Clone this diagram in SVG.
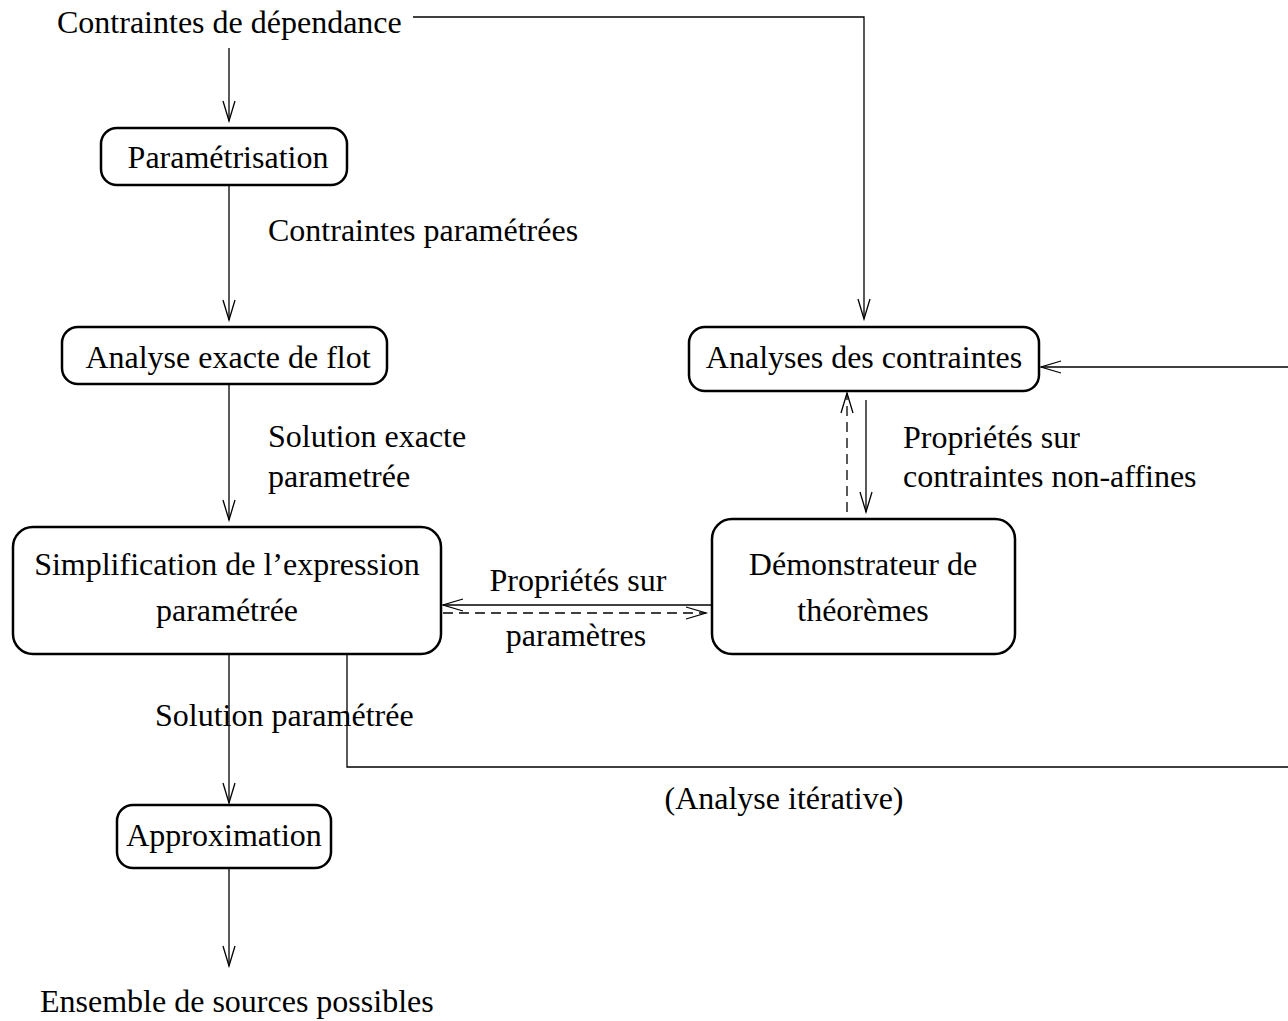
<svg xmlns="http://www.w3.org/2000/svg" width="1288" height="1021" viewBox="0 0 1288 1021">
<style>
text{font-family:"Liberation Serif","Times New Roman",serif;font-size:32px;fill:#000}
.c{text-anchor:middle}
.box{fill:none;stroke:#000;stroke-width:2.5}
.ln{fill:none;stroke:#000;stroke-width:1.3}
.d{stroke-dasharray:10,6}
</style>
<defs>
<marker id="a" markerUnits="userSpaceOnUse" markerWidth="24" markerHeight="16" viewBox="0 0 24 16" refX="21" refY="8" orient="auto">
<path d="M1,2 L21,8 L1,14" fill="none" stroke="#000" stroke-width="1.3"/>
</marker>
</defs>
<rect width="1288" height="1021" fill="#fff"/>
<g id="connectors">
<line class="ln" x1="229" y1="48" x2="229" y2="121" marker-end="url(#a)"/>
<polyline class="ln" points="413,17 864,17 864,319" marker-end="url(#a)"/>
<line class="ln" x1="229" y1="185" x2="229" y2="320" marker-end="url(#a)"/>
<line class="ln" x1="229" y1="384" x2="229" y2="520" marker-end="url(#a)"/>
<line class="ln" x1="866" y1="400" x2="866" y2="512" marker-end="url(#a)"/>
<line class="ln d" x1="847" y1="512" x2="847" y2="393" marker-end="url(#a)"/>
<line class="ln" x1="712" y1="605" x2="443" y2="605" marker-end="url(#a)"/>
<line class="ln d" x1="443" y1="613" x2="706" y2="613" marker-end="url(#a)"/>
<line class="ln" x1="1288" y1="367" x2="1041" y2="367" marker-end="url(#a)"/>
<polyline class="ln" points="347,654 347,767 1288,767"/>
<line class="ln" x1="229" y1="654" x2="229" y2="803" marker-end="url(#a)"/>
<line class="ln" x1="229" y1="868" x2="229" y2="966" marker-end="url(#a)"/>
</g>
<g id="labels">
<text x="57" y="33">Contraintes de dépendance</text>
<text x="268" y="241">Contraintes paramétrées</text>
<text x="268" y="447">Solution exacte</text>
<text x="268" y="487">parametrée</text>
<text x="903" y="448">Propriétés sur</text>
<text x="903" y="487">contraintes non-affines</text>
<text class="c" x="578" y="591">Propriétés sur</text>
<text class="c" x="576" y="646">paramètres</text>
<text x="155" y="726">Solution paramétrée</text>
<text class="c" x="784" y="809">(Analyse itérative)</text>
<text x="40" y="1012">Ensemble de sources possibles</text>
</g>
<g id="n-param">
<rect class="box" x="101" y="128" width="246" height="57" rx="16"/>
<text class="c" x="228" y="168">Paramétrisation</text>
</g>
<g id="n-flot">
<rect class="box" x="62" y="327" width="325" height="57" rx="16"/>
<text class="c" x="228" y="368">Analyse exacte de flot</text>
</g>
<g id="n-analyses">
<rect class="box" x="689" y="327" width="350" height="64" rx="16"/>
<text class="c" x="864" y="368">Analyses des contraintes</text>
</g>
<g id="n-simpl">
<rect class="box" x="13" y="527" width="428" height="127" rx="20"/>
<text class="c" x="227" y="575">Simplification de l’expression</text>
<text class="c" x="227" y="621">paramétrée</text>
</g>
<g id="n-demo">
<rect class="box" x="712" y="519" width="303" height="135" rx="20"/>
<text class="c" x="863" y="575">Démonstrateur de</text>
<text class="c" x="863" y="621">théorèmes</text>
</g>
<g id="n-approx">
<rect class="box" x="117" y="805" width="214" height="63" rx="16"/>
<text class="c" x="224" y="846">Approximation</text>
</g>
</svg>
